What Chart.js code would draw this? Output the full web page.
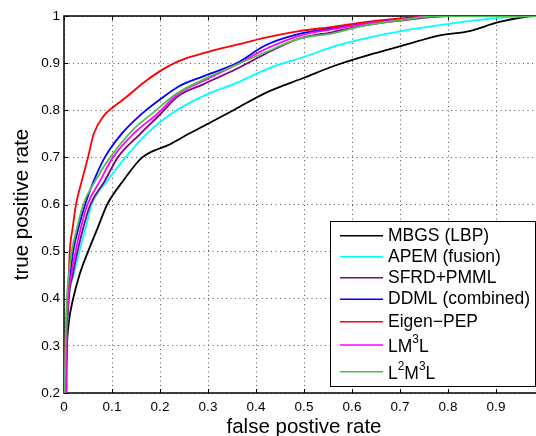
<!DOCTYPE html>
<html lang="en">
<head>
  <meta charset="UTF-8">
  <title>ROC curves</title>
  <script src="https://cdn.jsdelivr.net/npm/chart.js"></script>
  <style>
    body {
      margin: 0;
      background: #fff;
      width: 536px;
      height: 436px;
      overflow: hidden;
    }
    canvas { display: block; }
  </style>
</head>
<body>
  <canvas id="rocChart" width="560" height="436"></canvas>

  <script>
    // values
    const methods = ['MBGS (LBP)', 'APEM (fusion)', 'SFRD+PMML', 'DDML (combined)', 'Eigen\u2212PEP', 'LM³L', 'L²M³L'];
    const xTicks = [0, 0.1, 0.2, 0.3, 0.4, 0.5, 0.6, 0.7, 0.8, 0.9];
    const yTicks = [0.2, 0.3, 0.4, 0.5, 0.6, 0.7, 0.8, 0.9, 1];

    const mbgsFpr = [0.003, 0.006, 0.01, 0.019, 0.032, 0.05, 0.07, 0.09, 0.123, 0.163, 0.221, 0.26, 0.29, 0.353, 0.42, 0.5, 0.565, 0.644, 0.705, 0.783, 0.845, 0.905, 0.983, 1];
    const mbgsTpr = [0.2, 0.3, 0.35, 0.4, 0.45, 0.5, 0.55, 0.6, 0.65, 0.7, 0.728, 0.75, 0.766, 0.8, 0.837, 0.869, 0.895, 0.92, 0.937, 0.959, 0.968, 0.987, 1, 1];

    const apemFpr = [0.003, 0.005, 0.01, 0.02, 0.032, 0.045, 0.058, 0.09, 0.128, 0.172, 0.221, 0.29, 0.36, 0.429, 0.499, 0.568, 0.635, 0.714, 0.78, 0.85, 0.905, 0.983, 1];
    const apemTpr = [0.2, 0.3, 0.4, 0.45, 0.5, 0.55, 0.6, 0.65, 0.7, 0.75, 0.791, 0.83, 0.858, 0.89, 0.913, 0.937, 0.954, 0.97, 0.98, 0.99, 0.996, 1, 1];

    const sfrdFpr = [0.005, 0.006, 0.01, 0.018, 0.028, 0.04, 0.055, 0.085, 0.112, 0.158, 0.2, 0.238, 0.29, 0.36, 0.42, 0.49, 0.56, 0.627, 0.7, 0.8, 1];
    const sfrdTpr = [0.2, 0.3, 0.4, 0.45, 0.5, 0.55, 0.6, 0.65, 0.7, 0.749, 0.791, 0.83, 0.855, 0.888, 0.92, 0.952, 0.966, 0.98, 0.99, 1, 1];

    const ddmlFpr = [0.003, 0.004, 0.008, 0.013, 0.019, 0.03, 0.044, 0.062, 0.085, 0.12, 0.165, 0.2, 0.238, 0.29, 0.36, 0.42, 0.49, 0.56, 0.627, 0.7, 0.78, 1];
    const ddmlTpr = [0.2, 0.3, 0.4, 0.45, 0.5, 0.55, 0.6, 0.65, 0.7, 0.75, 0.795, 0.823, 0.85, 0.872, 0.9, 0.938, 0.962, 0.974, 0.984, 0.993, 1, 1];

    const pepFpr = [0.002, 0.003, 0.006, 0.008, 0.01, 0.012, 0.018, 0.025, 0.037, 0.05, 0.062, 0.082, 0.104, 0.13, 0.165, 0.2, 0.23, 0.257, 0.304, 0.36, 0.42, 0.49, 0.56, 0.627, 0.7, 0.8, 1];
    const pepTpr = [0.2, 0.3, 0.35, 0.4, 0.45, 0.5, 0.55, 0.6, 0.65, 0.7, 0.75, 0.787, 0.808, 0.828, 0.858, 0.883, 0.9, 0.911, 0.925, 0.939, 0.954, 0.968, 0.977, 0.987, 0.995, 1, 1];

    const lm3lFpr = [0.004, 0.005, 0.009, 0.015, 0.024, 0.035, 0.049, 0.075, 0.102, 0.151, 0.193, 0.238, 0.29, 0.36, 0.42, 0.49, 0.56, 0.627, 0.7, 0.77, 1];
    const lm3lTpr = [0.2, 0.3, 0.4, 0.45, 0.5, 0.55, 0.6, 0.65, 0.7, 0.756, 0.791, 0.835, 0.862, 0.897, 0.93, 0.958, 0.972, 0.983, 0.992, 1, 1];

    const l2m3lFpr = [0.001, 0.003, 0.006, 0.01, 0.016, 0.027, 0.04, 0.065, 0.096, 0.144, 0.186, 0.234, 0.29, 0.36, 0.42, 0.49, 0.56, 0.627, 0.7, 0.78, 1];
    const l2m3lTpr = [0.2, 0.3, 0.4, 0.45, 0.5, 0.55, 0.6, 0.65, 0.7, 0.759, 0.795, 0.835, 0.865, 0.897, 0.923, 0.952, 0.963, 0.98, 0.991, 1, 1];

    const series = [
      [mbgsFpr, mbgsTpr], [apemFpr, apemTpr], [sfrdFpr, sfrdTpr], [ddmlFpr, ddmlTpr],
      [pepFpr, pepTpr], [lm3lFpr, lm3lTpr], [l2m3lFpr, l2m3lTpr]
    ];
    const colors = ['#000000', '#00ffff', '#800080', '#0000ff', '#ff0000', '#ff00ff', '#4cc04c'];

    const FONT = '"Liberation Sans", Arial, Helvetica, sans-serif';
    Chart.defaults.font.family = FONT;
    Chart.defaults.color = '#000';

    // axes box with inward tick marks, MATLAB style
    const framePlugin = {
      id: 'frame',
      beforeDatasetsDraw(chart) {
        const { ctx, chartArea: a, scales } = chart;
        ctx.save();
        ctx.strokeStyle = '#000';
        ctx.lineWidth = 1.5;
        ctx.strokeRect(a.left, a.top, a.right - a.left, a.bottom - a.top);
        ctx.lineWidth = 1;
        ctx.beginPath();
        xTicks.forEach(v => {
          const px = Math.round(scales.x.getPixelForValue(v)) + 0.5;
          ctx.moveTo(px, a.bottom); ctx.lineTo(px, a.bottom - 4);
          ctx.moveTo(px, a.top); ctx.lineTo(px, a.top + 4);
        });
        yTicks.forEach(v => {
          const py = Math.round(scales.y.getPixelForValue(v)) + 0.5;
          ctx.moveTo(a.left, py); ctx.lineTo(a.left + 4, py);
        });
        ctx.stroke();
        ctx.restore();
      }
    };

    function drawLabel(ctx, text, x, y, size) {
      const sup = { '²': '2', '³': '3' };
      let run = '';
      const flush = () => {
        if (!run) return;
        ctx.font = size + 'px ' + FONT;
        ctx.fillText(run, x, y);
        x += ctx.measureText(run).width;
        run = '';
      };
      for (const ch of text) {
        if (sup[ch]) {
          flush();
          ctx.font = (size * 0.68) + 'px ' + FONT;
          ctx.fillText(sup[ch], x, y - size * 0.4);
          x += ctx.measureText(sup[ch]).width;
        } else {
          run += ch;
        }
      }
      flush();
    }

    const legendPlugin = {
      id: 'boxLegend',
      afterDraw(chart) {
        const { ctx } = chart;
        const rowY = [235.7, 256.7, 277.7, 299.3, 321.7, 345, 371.7];
        ctx.save();
        ctx.fillStyle = '#fff';
        ctx.fillRect(330, 221, 206, 166);
        ctx.strokeStyle = '#000';
        ctx.lineWidth = 1;
        ctx.strokeRect(330.5, 221.5, 205, 165);
        methods.forEach((name, i) => {
          const y = rowY[i];
          ctx.strokeStyle = colors[i];
          ctx.lineWidth = 1.6;
          ctx.beginPath();
          ctx.moveTo(340, y);
          ctx.lineTo(383, y);
          ctx.stroke();
          ctx.fillStyle = '#000';
          ctx.textBaseline = 'middle';
          ctx.textAlign = 'left';
          drawLabel(ctx, name, 388, y + (i >= 5 ? 2 : 0), 17.5);
        });
        ctx.restore();
      }
    };

    const datasets = series.map(([fpr, tpr], i) => ({
      label: methods[i],
      data: fpr.map((f, j) => ({ x: f, y: tpr[j] })),
      borderColor: colors[i],
      borderWidth: 1.8,
      pointRadius: 0,
      showLine: true,
      fill: false,
      cubicInterpolationMode: 'monotone',
      order: methods.length - i
    }));

    new Chart(document.getElementById('rocChart'), {
      type: 'scatter',
      data: { datasets },
      options: {
        responsive: false,
        animation: false,
        layout: { padding: { top: 16, right: 16, left: 0, bottom: 0 } },
        plugins: { legend: { display: false }, tooltip: { enabled: false } },
        scales: {
          x: {
            type: 'linear',
            min: 0,
            max: 1,
            afterBuildTicks: s => { s.ticks = xTicks.map(v => ({ value: v })); },
            afterFit: s => { s.height = 43; },
            ticks: { font: { size: 13.5 }, padding: 6, maxRotation: 0, callback: v => String(v) },
            grid: { color: '#555', lineWidth: 1, drawTicks: false },
            border: { display: false, dash: [1, 3.5] },
            title: { display: true, text: 'false postive rate', font: { size: 20.5, lineHeight: 0.8 }, padding: 0 }
          },
          y: {
            min: 0.2,
            max: 1,
            afterBuildTicks: s => { s.ticks = yTicks.map(v => ({ value: v })); },
            afterFit: s => { s.width = 64; },
            ticks: { font: { size: 13.5 }, padding: 4, callback: v => String(v) },
            grid: { color: '#555', lineWidth: 1, drawTicks: false },
            border: { display: false, dash: [1, 3.5] },
            title: { display: true, text: 'true positive rate', font: { size: 20.5 }, padding: { top: 10, bottom: 0 } }
          }
        }
      },
      plugins: [framePlugin, legendPlugin]
    });
  </script>
</body>
</html>
